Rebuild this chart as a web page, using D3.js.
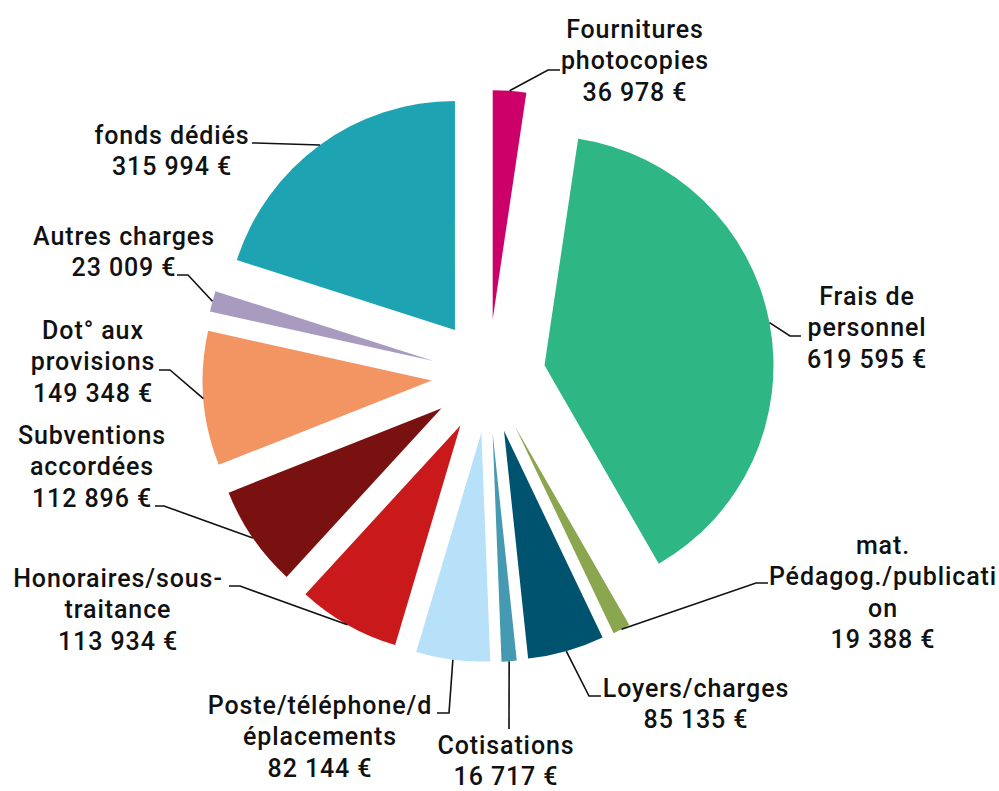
<!DOCTYPE html>
<html>
<head>
<meta charset="utf-8">
<script src="https://cdn.jsdelivr.net/npm/d3@7"></script>
<style>
  html, body { margin: 0; padding: 0; background: #fff; }
  svg { display: block; }
  text { font-family: Roboto, "DejaVu Sans", sans-serif; fill: #111; }
</style>
</head>
<body>
<svg id="chart" width="999" height="791"></svg>
<script>
// ---- data ----
const categories = [
  "Fournitures photocopies",
  "Frais de personnel",
  "mat. Pédagog./publication",
  "Loyers/charges",
  "Cotisations",
  "Poste/téléphone/déplacements",
  "Honoraires/sous-traitance",
  "Subventions accordées",
  "Dot° aux provisions",
  "Autres charges",
  "fonds dédiés"
];
const values = [36978, 619595, 19388, 85135, 16717, 82144, 113934, 112896, 149348, 23009, 315994];
const valueLabels = ["36 978 €", "619 595 €", "19 388 €", "85 135 €", "16 717 €", "82 144 €", "113 934 €", "112 896 €", "149 348 €", "23 009 €", "315 994 €"];
const nameLines = [
  ["Fournitures", "photocopies"],
  ["Frais de", "personnel"],
  ["mat.", "Pédagog./publicati", "on"],
  ["Loyers/charges"],
  ["Cotisations"],
  ["Poste/téléphone/d", "éplacements"],
  ["Honoraires/sous-", "traitance"],
  ["Subventions", "accordées"],
  ["Dot° aux", "provisions"],
  ["Autres charges"],
  ["fonds dédiés"]
];
const colors = ["#cc0068", "#2eb785", "#8aa64e", "#00536f", "#4599b1", "#b7e1f8", "#c9191b", "#7a1111", "#f29563", "#a99bbf", "#1ea3b3"];

// ---- layout (annotation positions, not data) ----
const cx = 488.5, cy = 376, R = 229, explode = 57;
const lineH = 31.5;
// label anchor: text center x, first line center y; leader elbow & end points
const labelLayout = [
  { x: 635, y: 29,  elbow: [548, 70],  end: [560, 70] },
  { x: 867, y: 296, elbow: [790, 336], end: [801, 336] },
  { x: 883, y: 545, elbow: [756, 583], end: [768, 583] },
  { x: 696, y: 688, elbow: [589, 696], end: [601, 696] },
  { x: 506, y: 745, elbow: [509, 729], end: [509, 729] },
  { x: 320, y: 705, elbow: [449, 713], end: [437, 713] },
  { x: 118, y: 578, elbow: [240, 586], end: [229, 586] },
  { x: 92,  y: 435, elbow: [164, 506], end: [155, 506] },
  { x: 93,  y: 330, elbow: [170, 370], end: [159, 370] },
  { x: 124, y: 236, elbow: [188, 275], end: [177, 275] },
  { x: 172, y: 135, elbow: [256, 143], end: [252, 143] }
];

const data = categories.map((c, i) => ({ name: c, value: values[i], i }));

const svg = d3.select("#chart");
const pie = d3.pie().sort(null).value(d => d.value).startAngle(0).endAngle(2 * Math.PI);
const arcs = pie(data);
const arc = d3.arc().innerRadius(0).outerRadius(R);

const g = svg.append("g").attr("transform", `translate(${cx},${cy})`);

g.selectAll("path.slice")
  .data(arcs)
  .join("path")
  .attr("class", "slice")
  .attr("d", arc)
  .attr("fill", d => colors[d.data.i])
  .attr("transform", d => {
    const m = (d.startAngle + d.endAngle) / 2;
    return `translate(${explode * Math.sin(m)},${-explode * Math.cos(m)})`;
  });

// leader lines
svg.selectAll("path.leader")
  .data(arcs)
  .join("path")
  .attr("class", "leader")
  .attr("fill", "none")
  .attr("stroke", "#111")
  .attr("stroke-width", 1.6)
  .attr("d", d => {
    const m = (d.startAngle + d.endAngle) / 2;
    const rr = explode + R;
    const sx = cx + rr * Math.sin(m), sy = cy - rr * Math.cos(m);
    const L = labelLayout[d.data.i];
    return d3.line()([[sx, sy], L.elbow, L.end]);
  });

// labels
const labels = svg.selectAll("text.lbl")
  .data(arcs)
  .join("text")
  .attr("class", "lbl")
  .attr("text-anchor", "middle")
  .style("font-size", "25px")
  .style("letter-spacing", "0.9px")
  .style("font-weight", "500");

labels.each(function(d) {
  const L = labelLayout[d.data.i];
  const lines = nameLines[d.data.i].concat([valueLabels[d.data.i]]);
  d3.select(this).selectAll("tspan")
    .data(lines)
    .join("tspan")
    .attr("x", L.x)
    .attr("y", (t, k) => L.y + k * lineH)
    .attr("dy", "0.35em")
    .text(t => t);
});
</script>
</body>
</html>
